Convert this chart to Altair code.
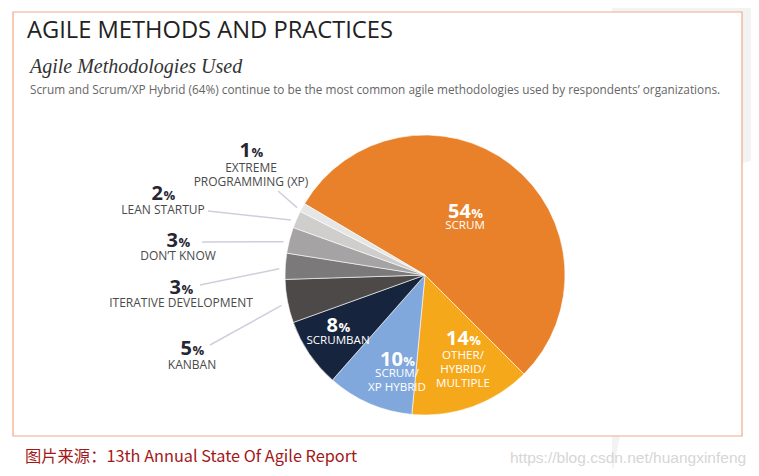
import altair as alt
import pandas as pd
import numpy as np

# ---- data ----
categories = ["Scrum", "Other/Hybrid/Multiple", "Scrum/XP Hybrid", "Scrumban", "Kanban",
              "Iterative Development", "Don't Know", "Lean Startup", "Extreme Programming (XP)"]
label_lines = [["SCRUM"], ["OTHER/", "HYBRID/", "MULTIPLE"], ["SCRUM/", "XP HYBRID"], ["SCRUMBAN"],
               ["KANBAN"], ["ITERATIVE DEVELOPMENT"], ["DON\u2019T KNOW"], ["LEAN STARTUP"],
               ["EXTREME", "PROGRAMMING (XP)"]]
shares = [54, 14, 10, 8, 5, 3, 3, 2, 1]

# ---- style / layout ----
colors = ["#E8812A", "#F6A81B", "#80A8DC", "#16253D", "#4D4949", "#7B7979", "#A5A3A3", "#CFCECC", "#E7E6E6"]
inside = [True, True, True, True, False, False, False, False, False]
# label centre x, number centre y, first text-line centre y (plot coords)
lab_cx = [457, 455, 389, 330, 184, 173, 170, 155, 243]
lab_ny = [203, 330, 351, 317, 340, 279, 232, 185, 142]
lab_ty = [218, 348, 366, 333, 357, 295, 248, 202, 160]
leader_from = {4: (202, 337), 5: (192, 277), 6: (194, 234), 7: (200, 203), 8: (270, 183)}
W, H = 743, 460
CX, CY, R = 417, 267, 140
start_deg = -59.4
FONT = "Open Sans"

df = pd.DataFrame({"category": categories, "share": shares, "idx": list(range(len(shares)))})

pie = alt.Chart(df).mark_arc(outerRadius=R, stroke="white", strokeWidth=0.6).encode(
    theta=alt.Theta("share:Q", stack=True,
                    scale=alt.Scale(domain=[0, 100],
                                    range=[np.deg2rad(start_deg), np.deg2rad(start_deg) + 2 * np.pi])),
    order=alt.Order("idx:Q", sort="ascending"),
    color=alt.Color("category:N", scale=alt.Scale(domain=categories, range=colors), legend=None),
    x=alt.value(CX), y=alt.value(CY),
)

# number + % labels
num_rows, pct_rows, line_rows = [], [], []
for i, v in enumerate(shares):
    s = str(v)
    nw = 11.6 * len(s)
    pw = 11.5
    split = lab_cx[i] - (nw + pw) / 2 + nw
    col = "white" if inside[i] else "#262633"
    num_rows.append({"t": s, "x": split, "y": lab_ny[i] + 7, "c": col})
    pct_rows.append({"t": "%", "x": split + 0.5, "y": lab_ny[i] + 7, "c": col})
    for j, ln in enumerate(label_lines[i]):
        line_rows.append({"t": ln, "x": lab_cx[i], "y": lab_ty[i] + 13.8 * j,
                          "c": "white" if inside[i] else "#4a4a4a",
                          "s": 11.6 if inside[i] else 12})

def txt(rows, size=None, **kw):
    enc = dict(x=alt.X("x:Q", scale=None), y=alt.Y("y:Q", scale=None),
               text="t:N", color=alt.Color("c:N", scale=None))
    if size is not None:
        enc["size"] = alt.Size("s:Q", scale=None)
    return alt.Chart(pd.DataFrame(rows)).mark_text(font=FONT, **kw).encode(**enc)

nums = txt(num_rows, fontSize=20, fontWeight="bold", align="right", baseline="alphabetic")
pcts = txt(pct_rows, fontSize=13, fontWeight="bold", align="left", baseline="alphabetic")
lines_t = txt(line_rows, size=True, align="center", baseline="middle")

# leader lines: from label to slice edge at the slice's mid angle
cum = np.cumsum([0] + shares)
lead_rows = []
for i, (x0, y0) in leader_from.items():
    mid = np.deg2rad(start_deg + (cum[i] + shares[i] / 2) * 3.6)
    lead_rows.append({"x": x0, "y": y0, "x2": CX + (R + 6) * np.sin(mid), "y2": CY - (R + 6) * np.cos(mid) + 3})
leaders = alt.Chart(pd.DataFrame(lead_rows)).mark_rule(color="#CDD0DC", strokeWidth=1.5).encode(
    x=alt.X("x:Q", scale=None), y=alt.Y("y:Q", scale=None),
    x2="x2:Q", y2="y2:Q")

# faint grey page background at bottom right (behind the frame)
bg = alt.Chart(pd.DataFrame({"x": [604, 612, 735, 743], "y": [468, 428, 155, 153]})).mark_area(
    color="#F3F3F3").encode(x=alt.X("x:Q", scale=None), y=alt.Y("y:Q", scale=None), y2=alt.value(470))

one = pd.DataFrame({"a": [0]})
frame = alt.Chart(one).mark_rect(fill="white", stroke="#F4A888", strokeWidth=1.2).encode(
    x=alt.value(5), x2=alt.value(734), y=alt.value(4), y2=alt.value(428))

def label(text, x, y, **kw):
    return alt.Chart(one).mark_text(align="left", baseline="alphabetic", **kw).encode(
        x=alt.value(x), y=alt.value(y), text=alt.value(text))

title = label("AGILE METHODS AND PRACTICES", 19, 30, font=FONT, fontSize=23.7, color="#222222")
subtitle = label("Agile Methodologies Used", 22, 65, font="Liberation Serif", fontSize=20,
                 fontStyle="italic", color="#333333")
desc = label("Scrum and Scrum/XP Hybrid (64%) continue to be the most common agile methodologies used by respondents\u2019 organizations.",
             22, 86, font=FONT, fontSize=11.8, color="#666666")
source = label("图片来源：13th Annual State Of Agile Report", 17, 454, font="Noto Sans CJK SC",
               fontSize=16.3, color="#A31818")
water = label("https://blog.csdn.net/huangxinfeng", 502, 455, font="Liberation Sans",
              fontSize=15.5, color="#D6D6D6")

chart = alt.layer(bg, frame, pie, leaders, nums, pcts, lines_t, title, subtitle, desc, source, water).properties(
    width=W, height=H, autosize=alt.AutoSizeParams(type="none"), padding=0
).configure_view(stroke=None)

chart.save("out.html", embed_options={"renderer": "svg", "actions": False})
